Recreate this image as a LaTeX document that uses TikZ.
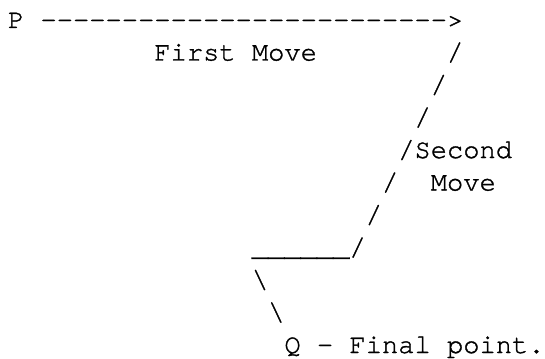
\documentclass[tikz,border=0pt]{standalone}
\usepackage{fontspec}
\setmonofont[FakeBold=1.2]{TeX Gyre Cursor}
\begin{document}
\begin{tikzpicture}[x=1pt,y=-1pt,
  txt/.style={inner sep=0pt,outer sep=0pt,anchor=base west,
    font=\ttfamily\fontsize{27.1}{32.5}\selectfont}]
\useasboundingbox (0,0) rectangle (545,358);
\def\ox{8}\def\cw{16.26}\def\oy{28}\def\lh{32.5}
% line 1
\node[txt] (p) at ({\ox+\cw*0},{\oy+\lh*0}) {P};
\node[txt] (arrow) at ({\ox+\cw*2},{\oy+\lh*0}) {------------------------->};
% line 2
\node[txt] (first) at ({\ox+\cw*9},{\oy+\lh*1}) {First Move};
\node[txt] (s1) at ({\ox+\cw*27},{\oy+\lh*1}) {/};
% line 3
\node[txt] (s2) at ({\ox+\cw*26},{\oy+\lh*2}) {/};
% line 4
\node[txt] (s3) at ({\ox+\cw*25},{\oy+\lh*3}) {/};
% line 5
\node[txt] (s4) at ({\ox+\cw*24},{\oy+\lh*4}) {/};
\node[txt] (second) at ({\ox+\cw*25},{\oy+\lh*4}) {Second};
% line 6
\node[txt] (s5) at ({\ox+\cw*23},{\oy+\lh*5}) {/};
\node[txt] (move) at ({\ox+\cw*26},{\oy+\lh*5}) {Move};
% line 7
\node[txt] (s6) at ({\ox+\cw*22},{\oy+\lh*6}) {/};
% line 8
\node[txt] (under) at ({\ox+\cw*15},{\oy+\lh*7}) {\textunderscore\textunderscore\textunderscore\textunderscore\textunderscore\textunderscore};
\node[txt] (s7) at ({\ox+\cw*21},{\oy+\lh*7}) {/};
% line 9
\node[txt] (b1) at ({\ox+\cw*15},{\oy+\lh*8}) {\textbackslash};
% line 10
\node[txt] (b2) at ({\ox+\cw*16},{\oy+\lh*9}) {\textbackslash};
% line 11
\node[txt] (q) at ({\ox+\cw*17},{\oy+\lh*10}) {Q - Final point.};
\end{tikzpicture}
\end{document}
